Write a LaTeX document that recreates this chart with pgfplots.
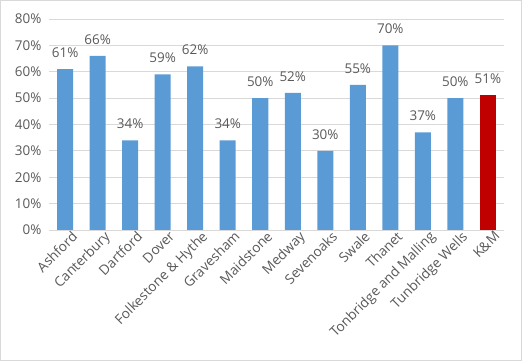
\documentclass[border=0pt]{standalone}
\usepackage{pgfplots}
\pgfplotsset{compat=1.18}
\usepackage{fontspec}
\setmainfont{Open Sans}
\definecolor{barblue}{RGB}{91,155,213}
\definecolor{barred}{RGB}{192,0,0}
\definecolor{txtgray}{RGB}{89,89,89}
\definecolor{linegray}{RGB}{217,217,217}
\begin{document}
\begin{tikzpicture}[x=1bp,y=1bp]
\draw[linegray, line width=0.8bp] (-48.5bp,-130.5bp) rectangle (472.5bp,229.5bp);
\begin{axis}[
  at={(0,0)}, anchor=south west,
  scale only axis, width=455bp, height=211bp,
  xmin=-0.5, xmax=13.5, ymin=0, ymax=80,
  ytick={0,10,...,80},
  yticklabel={\pgfmathprintnumber{\tick}\%},
  xtick={0,...,13},
  xticklabels={Ashford,Canterbury,Dartford,Dover,Folkestone \& Hythe,Gravesham,Maidstone,Medway,Sevenoaks,Swale,Thanet,Tonbridge and Malling,Tunbridge Wells,K\&M},
  xticklabel style={rotate=45, anchor=north east, inner sep=1bp, xshift=5bp, yshift=-3bp, font=\fontsize{13.7}{16}\selectfont},
  ymajorgrids, xmajorgrids=false,
  grid style={draw=linegray, line width=0.8bp},
  axis x line*=bottom, axis y line*=left,
  x axis line style={draw=linegray, line width=0.8bp},
  y axis line style={draw=none},
  major tick length=0pt,
  tick label style={text=txtgray},
  yticklabel style={xshift=-4bp, font=\fontsize{13.5}{16}\selectfont},
  /pgf/number format/assume math mode=true,
  ybar, bar width=16bp,
  nodes near coords={\pgfmathprintnumber{\pgfplotspointmeta}\%},
  nodes near coords style={font=\fontsize{13.5}{16}\selectfont, text=txtgray, yshift=8bp},
  enlargelimits=false, clip=false,
]
\addplot[fill=barblue, draw=none, bar shift=0pt] coordinates {
(0,61) (1,66) (2,34) (3,59) (4,62) (5,34) (6,50) (7,52) (8,30) (9,55) (10,70) (11,37) (12,50)};
\addplot[fill=barred, draw=none, bar shift=0pt] coordinates {(13,51)};
\end{axis}
\end{tikzpicture}
\end{document}
